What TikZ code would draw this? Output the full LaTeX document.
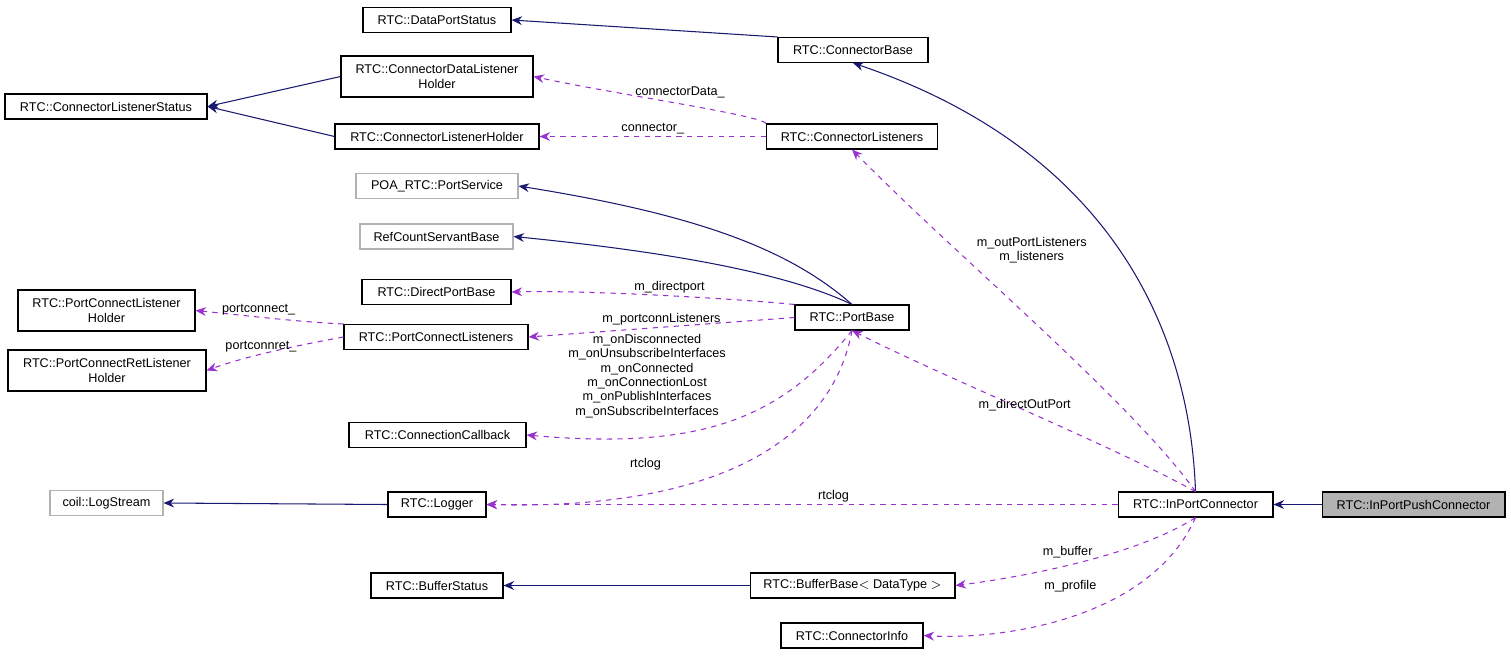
\documentclass[tikz,border=0pt]{standalone}
\usepackage{fontspec}
\setmainfont{Liberation Sans}
\usetikzlibrary{arrows.meta,positioning}
\definecolor{inh}{RGB}{25,25,112}
\definecolor{use}{RGB}{153,50,204}
\begin{document}
\begin{tikzpicture}[x=0.02cm,y=-0.02cm,font=\fontsize{7.2}{8.2}\selectfont]
  \tikzstyle{cls}=[draw,semithick,inner sep=0pt,minimum height=0.5cm,align=center]
  \tikzstyle{two}=[cls,minimum height=0.82cm]
  \tikzstyle{ext}=[cls,draw=black!30]
  \tikzstyle{inherit}=[draw=inh,semithick,-{Stealth[length=6pt,width=5pt]}]
  \tikzstyle{member}=[draw=use,semithick,dashed,-{Stealth[length=6pt,width=5pt]}]
  \tikzstyle{lbl}=[inner sep=1pt,align=center]
  \useasboundingbox (0,0) rectangle (1511,656);
  % classes
  \node[cls,minimum width=2.96cm] (dps) at (437,20) {RTC::DataPortStatus};
  \node[cls,minimum width=3cm] (cbase) at (853,50) {RTC::ConnectorBase};
  \node[two,minimum width=3.84cm] (cdlh) at (437,76.5) {RTC::ConnectorDataListener\\Holder};
  \node[cls,minimum width=4.04cm] (cls) at (106,106.5) {RTC::ConnectorListenerStatus};
  \node[cls,minimum width=4.08cm] (clh) at (437,136.5) {RTC::ConnectorListenerHolder};
  \node[cls,minimum width=3.42cm] (clis) at (852,136.5) {RTC::ConnectorListeners};
  \node[ext,minimum width=3.24cm] (poa) at (437,186) {POA\_RTC::PortService};
  \node[ext,minimum width=3.06cm] (rcsb) at (436.5,236.5) {RefCountServantBase};
  \node[cls,minimum width=2.98cm] (dpb) at (436.5,292) {RTC::DirectPortBase};
  \node[cls,minimum width=2.28cm] (pb) at (852,317.5) {RTC::PortBase};
  \node[two,minimum width=3.54cm] (pclh) at (106.5,310.5) {RTC::PortConnectListener\\Holder};
  \node[cls,minimum width=3.68cm] (pcl) at (436,337) {RTC::PortConnectListeners};
  \node[two,minimum width=3.96cm] (pcrlh) at (107,370.5) {RTC::PortConnectRetListener\\Holder};
  \node[cls,minimum width=3.54cm] (ccb) at (437.5,435) {RTC::ConnectionCallback};
  \node[ext,minimum width=2.26cm] (lstr) at (106.5,503) {coil::LogStream};
  \node[cls,minimum width=1.96cm] (log) at (437,504.5) {RTC::Logger};
  \node[cls,minimum width=3.1cm] (ipc) at (1195.5,504.5) {RTC::InPortConnector};
  \node[cls,fill=black!30,minimum width=3.66cm] (ippc) at (1413.5,504.5) {RTC::InPortPushConnector};
  \node[cls,minimum width=2.64cm] (bst) at (437,585.5) {RTC::BufferStatus};
  \node[cls,minimum width=4.1cm] (bb) at (852.5,585.5) {RTC::BufferBase$<$ DataType $>$};
  \node[cls,minimum width=2.84cm] (cinf) at (852,635.5) {RTC::ConnectorInfo};
  % inheritance
  \path[inherit] (cbase.north west) -- (dps.east);
  \path[inherit] (cdlh.west) -- (cls.east);
  \path[inherit] (clh.west) -- (cls.east);
  \path[inherit] (ipc.north) .. controls (1190,330) and (1110,150) .. (cbase.south);
  \path[inherit] (pb.north) .. controls (790,250) and (700,215) .. (poa.east);
  \path[inherit] (pb.north) .. controls (780,270) and (650,250) .. (rcsb.east);
  \path[inherit] (log.west) -- (lstr.east);
  \path[inherit] (bb.west) -- (bst.east);
  \path[inherit] (ippc.west) -- (ipc.east);
  % members
  \path[member] (clis.north west) .. controls (760,115) and (620,95) .. (cdlh.east) node[lbl,pos=0.5,above=2pt] {connectorData\_};
  \path[member] (clis.west) -- (clh.east) node[lbl,pos=0.5,above] {connector\_};
  \path[member] (ipc.north) .. controls (1130,400) and (950,250) .. (clis.south) node[lbl,pos=0.7,right=10pt] {m\_outPortListeners\\m\_listeners};
  \path[member] (pb.north west) .. controls (750,300) and (600,290) .. (dpb.east) node[lbl,pos=0.5,above] {m\_directport};
  \path[member] (pb.west) -- (pcl.east) node[lbl,pos=0.5,above] {m\_portconnListeners};
  \path[member] (pcl.north west) .. controls (300,322) and (250,316) .. (pclh.east) node[lbl,pos=0.6,above] {portconnect\_};
  \path[member] (pcl.west) .. controls (300,345) and (250,355) .. (pcrlh.east) node[lbl,pos=0.6,above] {portconnret\_};
  \path[member] (pb.south) .. controls (780,420) and (700,450) .. (ccb.east) node[lbl,pos=0.45,above left=-2pt and 8pt] {m\_onDisconnected\\m\_onUnsubscribeInterfaces\\m\_onConnected\\m\_onConnectionLost\\m\_onPublishInterfaces\\m\_onSubscribeInterfaces};
  \path[member] (pb.south) .. controls (830,450) and (700,510) .. (log.east) node[lbl,pos=0.72,above left=12pt and -10pt] {rtclog};
  \path[member] (ipc.north) .. controls (1100,440) and (950,380) .. (pb.south) node[lbl,pos=0.5,above=-2pt] {m\_directOutPort};
  \path[member] (ipc.west) -- (log.east) node[lbl,pos=0.45,above] {rtclog};
  \path[member] (ipc.south) .. controls (1130,560) and (1000,580) .. (bb.east) node[lbl,pos=0.5,above=3pt] {m\_buffer};
  \path[member] (ipc.south) .. controls (1150,620) and (1000,640) .. (cinf.east) node[lbl,pos=0.4,above left=6pt and 2pt] {m\_profile};
\end{tikzpicture}
\end{document}
